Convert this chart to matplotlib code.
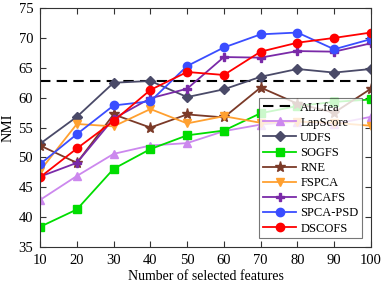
import matplotlib
matplotlib.use('Agg')
import matplotlib.pyplot as plt

# Number of selected features
features = [10, 20, 30, 40, 50, 60, 70, 80, 90, 100]

allfea = 62.8
lapscore = [42.9, 46.9, 50.6, 52.0, 52.4, 54.4, 55.5, 56.0, 55.6, 56.8]
udfs = [52.3, 56.8, 62.5, 62.8, 60.1, 61.4, 63.5, 64.8, 64.2, 64.8]
sogfs = [38.4, 41.3, 48.1, 51.4, 53.7, 54.5, 57.4, 58.6, 59.3, 59.7]
rne = [52.0, 49.1, 57.2, 55.0, 57.2, 56.7, 61.7, 59.0, 57.5, 61.5]
fspca = [47.8, 55.6, 55.2, 58.1, 55.7, 56.9, 55.8, 56.0, 55.8, 55.3]
spcafs = [46.8, 49.1, 56.5, 59.9, 61.5, 66.8, 66.7, 67.8, 67.7, 69.1]
spca_psd = [48.9, 53.9, 58.7, 59.4, 65.3, 68.4, 70.6, 70.9, 68.1, 69.8]
dscofs = [46.7, 51.5, 56.1, 61.3, 64.3, 63.8, 67.7, 69.2, 70.0, 70.9]

plt.rcParams['font.family'] = ['Liberation Serif', 'DejaVu Serif']

fig = plt.figure(figsize=(3.82, 2.87), dpi=100)
ax = fig.add_axes([0.105, 0.139, 0.866, 0.833])

ax.axhline(allfea, color='black', linestyle=(0, (5, 3)), linewidth=1.5, label='ALLfea')

series = [
    ('LapScore', lapscore, '#cc88ee', '^', 6),
    ('UDFS', udfs, '#4a4a68', 'D', 5),
    ('SOGFS', sogfs, '#00dd00', 's', 5.5),
    ('RNE', rne, '#7b3a28', '*', 8),
    ('FSPCA', fspca, '#ffa030', 'v', 6),
    ('SPCAFS', spcafs, '#7a2aa8', 'P', 6),
    ('SPCA-PSD', spca_psd, '#3a4dff', 'o', 6),
    ('DSCOFS', dscofs, '#ff0000', 'o', 6),
]
for name, vals, col, mk, ms in series:
    ax.plot(features, vals, color=col, marker=mk, markersize=ms,
            linewidth=1.3, label=name)

ax.set_xlim(10, 100)
ax.set_ylim(35, 75)
ax.set_xticks(features)
ax.set_yticks(range(35, 80, 5))
ax.tick_params(direction='in', top=True, right=True, labelsize=10.5,
               length=4, color='#333333', pad=5)
for s in ax.spines.values():
    s.set_color('#333333')
    s.set_linewidth(0.8)

ax.set_xlabel('Number of selected features', fontsize=10, labelpad=2)
ax.set_ylabel('NMI', fontsize=10.5, labelpad=3)

leg = ax.legend(loc='lower right', fontsize=9, frameon=True, fancybox=False,
                handlelength=2.7, borderpad=0.3, labelspacing=0.25,
                handletextpad=0.3, borderaxespad=0.7)
leg.get_frame().set_edgecolor('#555555')
leg.get_frame().set_linewidth(0.8)

fig.savefig('out.png', dpi=100)
